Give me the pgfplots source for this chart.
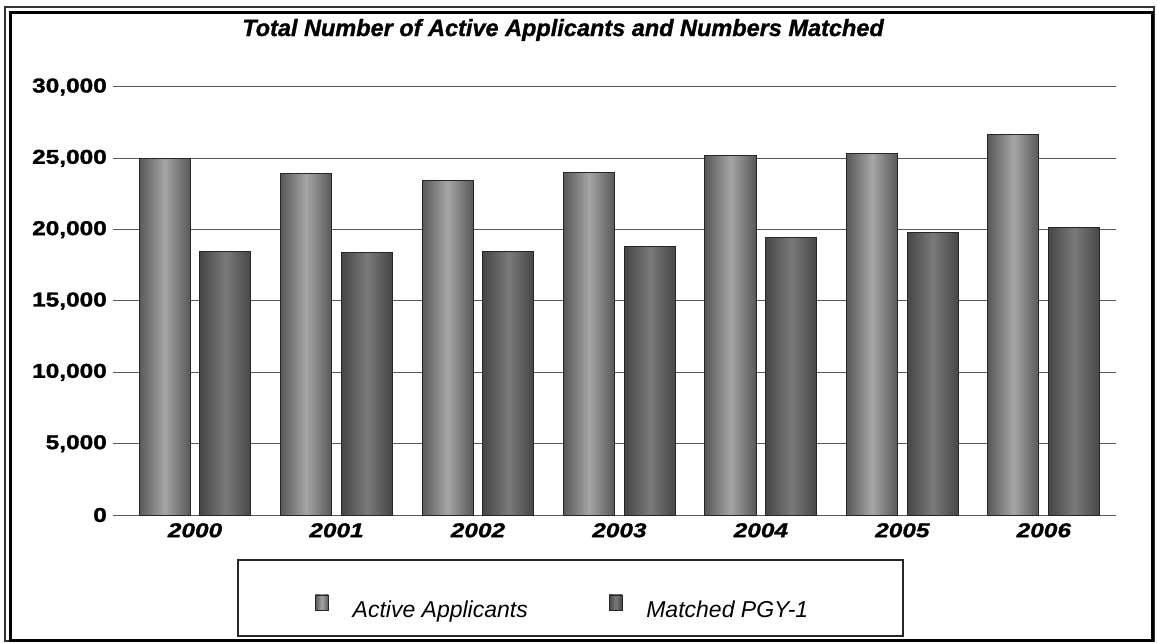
\documentclass[border=0pt]{standalone}
\usepackage{fontspec}
\setmainfont{Liberation Sans}
\newfontfamily\tickfont{Liberation Sans Bold}[FakeStretch=1.22,FakeBold=1.6]
\newfontfamily\yearfont{Liberation Sans Bold Italic}[FakeStretch=1.22,FakeBold=1.2]
\newfontfamily\titlefont{Liberation Sans Bold Italic}[FakeBold=1.2]
\newfontfamily\legfont{Liberation Sans Italic}
\usepackage{pgfplots}
\usepackage{pgfplotstable}
\pgfplotsset{compat=1.18}

\pgfplotstableread{
x active matched
0 25000 18440
1 23950 18420
2 23420 18470
3 23980 18800
4 25220 19480
5 25350 19800
6 26680 20150
}\datatable

\definecolor{actedge}{HTML}{585858}
\definecolor{actmid}{HTML}{A6A6A6}
\definecolor{matedge}{HTML}{464646}
\definecolor{matmid}{HTML}{7A7A7A}

\begin{document}
\begin{tikzpicture}[x=1pt,y=1pt]
\path[fill=white] (-113,-128) rectangle (1044,515);
\begin{axis}[
  at={(0,0)}, anchor=south west,
  scale only axis, width=1003pt, height=428pt,
  xmin=-0.58, xmax=6.51, ymin=0, ymax=30000,
  axis line style={draw=none},
  ymajorgrids, grid style={black!65, line width=1pt},
  major tick length=0pt,
  xtick={0,1,2,3,4,5,6},
  xticklabels={2000,2001,2002,2003,2004,2005,2006},
  ytick={0,5000,10000,15000,20000,25000,30000},
  scaled y ticks=false,
  /pgf/number format/1000 sep={,},
  /pgf/number format/assume math mode=true,
  yticklabel style={font=\fontsize{20}{20}\selectfont\tickfont, inner sep=0pt, xshift=-6pt, anchor=east},
  xticklabel style={font=\fontsize{20}{20}\selectfont\yearfont, inner sep=0pt, yshift=-8pt, anchor=north},
  title={Total Number of Active Applicants and Numbers Matched},
  title style={at={(axis description cs:0.4487,1.1051)}, anchor=base, font=\fontsize{23.5}{23.5}\selectfont\titlefont, inner sep=0pt},
  legend image code/.code={\draw[#1, line width=0.5pt] (0pt,0.5pt) rectangle (13pt,15.5pt);},
  legend style={draw=none, fill=none, at={(axis description cs:0.2014,-0.215)}, anchor=west,
    legend columns=2, font=\fontsize{23}{23}\selectfont\legfont, inner sep=0pt,
    nodes={inner sep=0pt},
    /tikz/every odd column/.append style={column sep=24pt},
    /tikz/every even column/.append style={column sep=81pt}},
  actstyle/.style={ybar, bar width=0.361, bar shift=-0.215, draw=black!85, line width=1pt,
    left color=actedge, right color=actedge, middle color=actmid},
  matstyle/.style={ybar, bar width=0.361, bar shift=0.215, draw=black!85, line width=1pt,
    left color=matedge, right color=matedge, middle color=matmid},
]
\addlegendimage{left color=actedge, right color=actedge, middle color=actmid, draw=black!85}
\addlegendentry{Active Applicants}
\addlegendimage{left color=matedge, right color=matedge, middle color=matmid, draw=black!85}
\addlegendentry{Matched PGY-1}
\pgfplotsinvokeforeach{0,1,2,3,4,5,6}{
  \addplot[actstyle, forget plot, restrict expr to domain={\coordindex}{#1:#1}]
    table[x=x, y=active] {\datatable};
  \addplot[matstyle, forget plot, restrict expr to domain={\coordindex}{#1:#1}]
    table[x=x, y=matched] {\datatable};
}
\end{axis}
\draw[black!85, line width=1.5pt] (125,-45) rectangle (790,-121);
\draw[black!80, line width=1.2pt] (-108,508) rectangle (1041,-126);
\draw[black, line width=3pt] (-102,502) rectangle (1039,-125);
\end{tikzpicture}
\end{document}
